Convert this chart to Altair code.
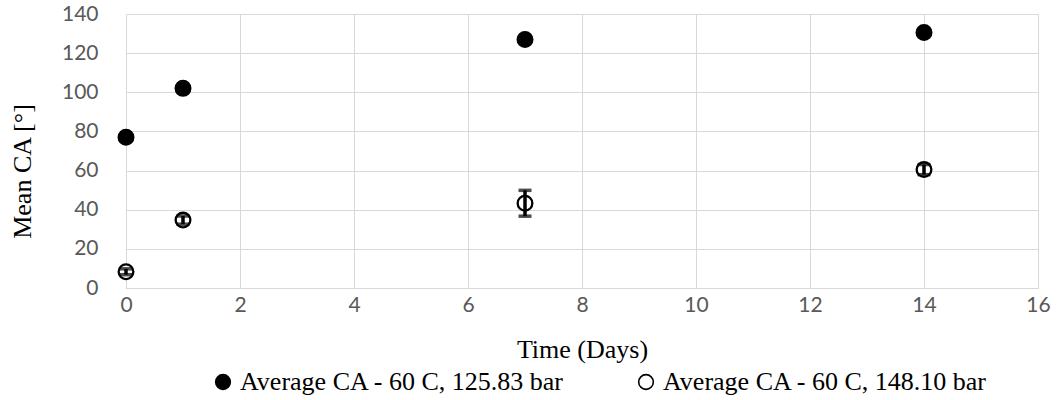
import altair as alt
import pandas as pd

days = [0, 1, 7, 14]
s1_name = "Average CA - 60 C, 125.83 bar"
s2_name = "Average CA - 60 C, 148.10 bar"
s1_vals = [77.0, 102.0, 127.0, 130.5]
s1_err = [0.0, 0.0, 0.0, 0.0]
s2_vals = [8.3, 34.7, 43.3, 60.5]
s2_err = [1.5, 2.1, 6.6, 2.6]
x_ticks = [0, 2, 4, 6, 8, 10, 12, 14, 16]
y_ticks = [0, 20, 40, 60, 80, 100, 120, 140]

rows = []
for d, v, e in zip(days, s1_vals, s1_err):
    rows.append({"day": d, "ca": v, "lo": v - e, "hi": v + e, "series": s1_name})
for d, v, e in zip(days, s2_vals, s2_err):
    rows.append({"day": d, "ca": v, "lo": v - e, "hi": v + e, "series": s2_name})
df = pd.DataFrame(rows)
df_err = df[df["hi"] > df["lo"]]

xscale = alt.Scale(domain=[0, 16], nice=False)
yscale = alt.Scale(domain=[0, 140], nice=False)
xaxis = alt.Axis(title="Time (Days)", values=x_ticks, labelOverlap=False, labelFlush=False,
                 titleBaseline="alphabetic", titleY=69)
yaxis = alt.Axis(title="Mean CA [°]", values=y_ticks, labelOverlap=False, labelFlush=False,
                 titleAngle=270, titleBaseline="alphabetic", titleAlign="center",
                 titleX=-96, titleY=157)

X = lambda f: alt.X(f"{f}:Q", scale=xscale, axis=xaxis)
Y = lambda f: alt.Y(f"{f}:Q", scale=yscale, axis=yaxis)

points = alt.Chart(df).mark_point(filled=False, size=216, strokeWidth=2.3, opacity=1).encode(
    x=X("day"),
    y=Y("ca"),
    fill=alt.Fill("series:N",
                  scale=alt.Scale(domain=[s1_name, s2_name], range=["#000000", "#ffffff"]),
                  legend=alt.Legend(title=None, orient="none", direction="horizontal",
                                    legendX=84, legendY=355, columnPadding=68,
                                    symbolType="circle", symbolSize=215,
                                    symbolStrokeColor="black", symbolStrokeWidth=1.6,
                                    labelFont="Liberation Serif", labelFontSize=26,
                                    labelColor="black", labelOffset=4, labelLimit=0)),
    stroke=alt.value("black"),
)

rules = alt.Chart(df_err).mark_rule(color="black", strokeWidth=3.5).encode(
    x=X("day"), y=Y("lo"), y2="hi:Q"
)
cap_lo = alt.Chart(df_err).mark_tick(color="black", thickness=3.5, size=13, orient="horizontal").encode(
    x=X("day"), y=Y("lo")
)
cap_hi = alt.Chart(df_err).mark_tick(color="black", thickness=3.5, size=13, orient="horizontal").encode(
    x=X("day"), y=Y("hi")
)

chart = alt.layer(points, rules, cap_lo, cap_hi).properties(
    width=912, height=274,
    autosize=alt.AutoSizeParams(type="none"),
    padding={"left": 126, "top": 14, "right": 19, "bottom": 112},
).configure_axis(
    grid=True, gridColor="#d9d9d9", gridWidth=1,
    domainColor="#d9d9d9", ticks=False,
    labelFont="Lato", labelFontSize=21, labelColor="#595959",
    titleFont="Liberation Serif", titleFontSize=26, titleColor="black", titleFontWeight="normal",
).configure_axisX(
    labelPadding=6,
).configure_axisY(
    labelPadding=28, domain=False,
).configure_view(stroke=None)

chart.save("out.html", embed_options={"renderer": "svg", "actions": False})
